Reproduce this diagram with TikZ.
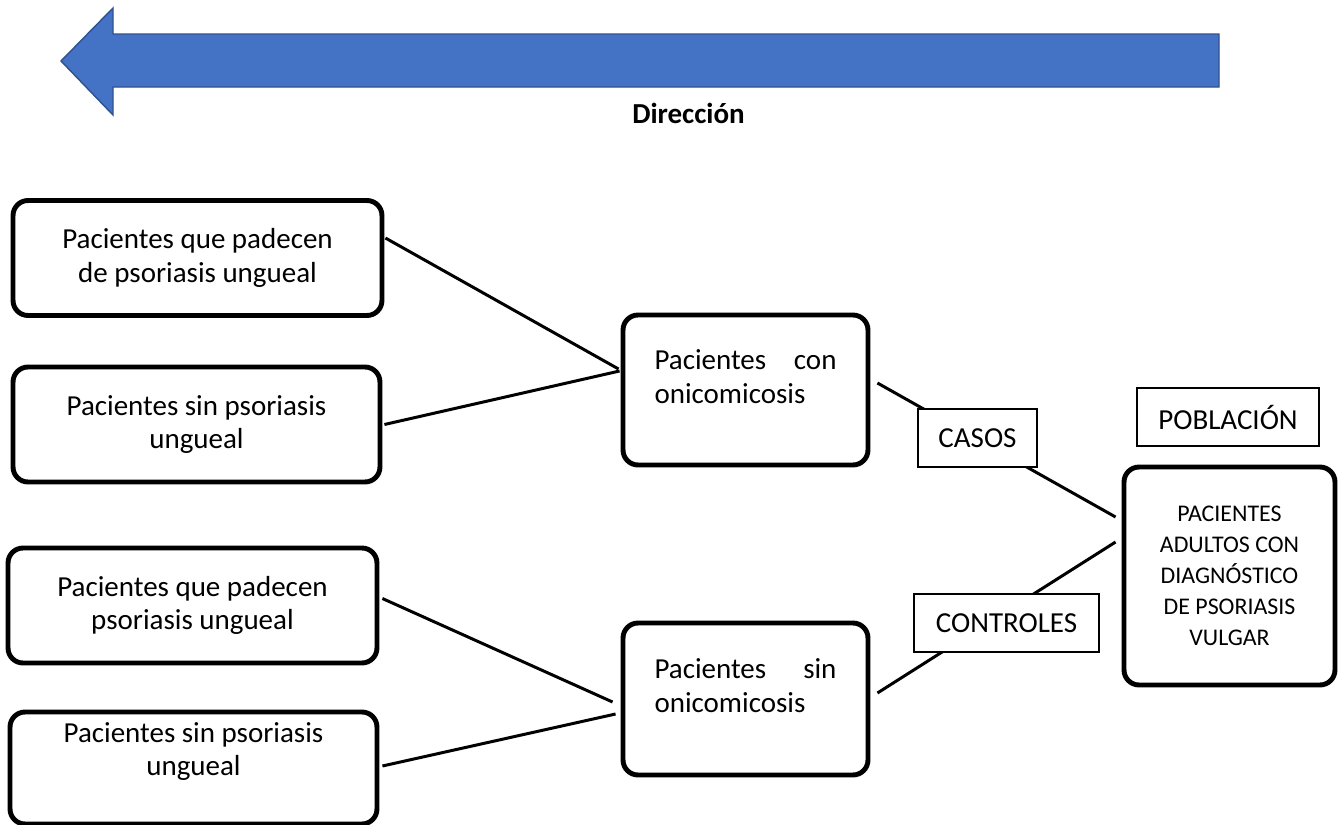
\documentclass[tikz,border=0pt]{standalone}
\usepackage{fontspec}
\setmainfont{Carlito}
\usetikzlibrary{calc}
\definecolor{arrowfill}{HTML}{4472C4}
\definecolor{arrowedge}{HTML}{2F528F}
\tikzset{
  group/.style={draw, line width=2.8pt, rounded corners=0.3cm, align=center, inner sep=0pt},
  tag/.style={draw, fill=white, line width=0.7pt, inner sep=0pt, minimum height=1.16cm},
  link/.style={line width=1.7pt},
}
\begin{document}
\begin{tikzpicture}[x=0.02cm, y=-0.02cm, font=\fontsize{16.5}{19}\selectfont]
  \useasboundingbox (0,0) rectangle (1343,825);

  % direction arrow
  \draw[fill=arrowfill, draw=arrowedge, line width=0.8pt]
    (61,61) -- (113,8) -- (113,34) -- (1219,34) -- (1219,87) -- (113,87) -- (113,115) -- cycle;
  \node[font=\fontsize{16.5}{19}\selectfont\bfseries] (direccion) at (688.5,113) {Dirección};

  \node[group, minimum width=7.38cm, minimum height=2.3cm] (ung-a)  at (197.5,258) {Pacientes que padecen\\de psoriasis ungueal};
  \node[group, minimum width=7.34cm, minimum height=2.3cm] (nung-a) at (196.5,424.5) {Pacientes sin psoriasis\\ungueal};
  \node[group, minimum width=7.38cm, minimum height=2.3cm] (ung-b)  at (192.5,605.5) {Pacientes que padecen\\psoriasis ungueal};
  \node[group, minimum width=7.34cm, minimum height=2.24cm, text width=6cm, align=flush center, text depth=1.42cm] (nung-b) at (193.5,768) {Pacientes sin psoriasis\\ungueal};

  \node[group, minimum width=4.9cm, minimum height=3cm, text width=3.64cm, align=left, text depth=1.2cm] (onico)    at (745.5,390) {Pacientes\hfill con\\onicomicosis};
  \node[group, minimum width=4.9cm, minimum height=3.04cm, text width=3.64cm, align=left, text depth=1.2cm] (no-onico) at (745.5,699) {Pacientes\hfill sin\\onicomicosis};

  \node[group, minimum width=4.22cm, minimum height=4.36cm, font=\fontsize{13.6}{17.6}\selectfont] (adultos) at (1229.5,576)
    {PACIENTES\\ADULTOS CON\\DIAGNÓSTICO\\DE PSORIASIS\\VULGAR};
  \node[tag, minimum width=3.64cm] (poblacion) at (1228,417) {POBLACIÓN};

  \draw[link] ($(ung-a.east)+(1,-20)$) -- ($(onico.west)+(-2,-21)$);
  \draw[link] ($(nung-a.east)+(2,0)$) -- ($(onico.west)+(-1,-19)$);
  \draw[link] ($(ung-b.east)+(3,-7)$) -- ($(no-onico.west)+(-8,3)$);
  \draw[link] ($(nung-b.east)+(3,-2)$) -- ($(no-onico.west)+(-5,15)$);
  \draw[link] ($(onico.east)+(7,-7)$) -- ($(adultos.west)+(-6,-59)$);
  \draw[link] ($(no-onico.east)+(7,-6)$) -- ($(adultos.west)+(-6,-34)$);

  \node[tag, minimum width=2.38cm] (casos)     at (977.5,438)  {CASOS};
  \node[tag, minimum width=3.7cm]  (controles) at (1006.5,623) {CONTROLES};
\end{tikzpicture}
\end{document}
